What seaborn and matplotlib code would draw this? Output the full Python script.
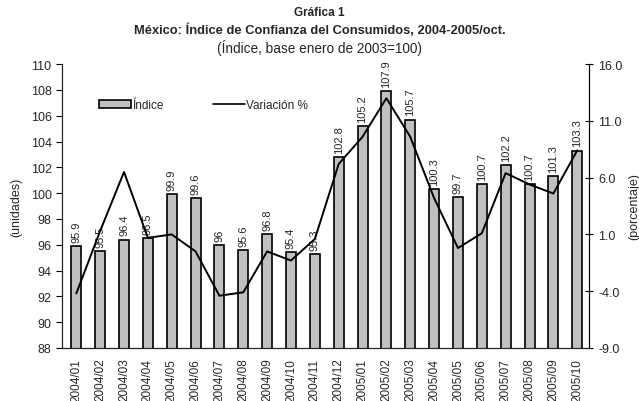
import numpy as np
import matplotlib
matplotlib.use('Agg')
import matplotlib.pyplot as plt
import seaborn as sns
from matplotlib.patches import Patch
from matplotlib.lines import Line2D

# Data
periodos = ['2004/01', '2004/02', '2004/03', '2004/04', '2004/05', '2004/06',
            '2004/07', '2004/08', '2004/09', '2004/10', '2004/11', '2004/12',
            '2005/01', '2005/02', '2005/03', '2005/04', '2005/05', '2005/06',
            '2005/07', '2005/08', '2005/09', '2005/10']
indice = [95.9, 95.5, 96.4, 96.5, 99.9, 99.6, 96.0, 95.6, 96.8, 95.4, 95.3, 102.8,
          105.2, 107.9, 105.7, 100.3, 99.7, 100.7, 102.2, 100.7, 101.3, 103.3]
etiquetas = ['95.9', '95.5', '96.4', '96.5', '99.9', '99.6', '96', '95.6', '96.8',
             '95.4', '95.3', '102.8', '105.2', '107.9', '105.7', '100.3', '99.7',
             '100.7', '102.2', '100.7', '101.3', '103.3']
variacion = [-4.2, 1.3, 6.5, 0.7, 1.0, -0.5, -4.4, -4.1, -0.5, -1.3, 0.6, 7.2,
             9.6, 13.0, 9.6, 4.2, -0.2, 1.1, 6.4, 5.4, 4.6, 8.4]

sns.set_style('white')
plt.rcParams['font.family'] = ['Liberation Sans', 'DejaVu Sans']

fig = plt.figure(figsize=(6.39, 4.02), dpi=100)
ax = fig.add_axes([0.097, 0.132, 0.825, 0.706])

sns.barplot(x=periodos, y=indice, color='#c0c0c0', saturation=1, width=0.42,
            edgecolor='black', linewidth=1.2, ax=ax)
ax.set_ylim(88, 110)
ax.set_yticks(np.arange(88, 111, 2))
ax.set_xlim(-0.6, 21.5)
ax.bar_label(ax.containers[0], labels=etiquetas, rotation=90, padding=3, fontsize=8)

ax.set_ylabel('(unidades)', fontsize=9, labelpad=6)
ax.set_xticks(range(len(periodos)))
ax.set_xticklabels(periodos, rotation=90, fontsize=8.5)
ax.set_xticks(np.arange(-0.5, len(periodos), 1), minor=True)
ax.tick_params(axis='x', which='major', length=0, pad=7)
ax.tick_params(axis='x', which='minor', length=5, direction='inout', color='black', width=0.8)
ax.tick_params(axis='y', labelsize=9, length=4, direction='out', color='black', width=0.8)
for s in ['left', 'bottom', 'right']:
    ax.spines[s].set_color('black')
    ax.spines[s].set_linewidth(0.8)
ax.spines['top'].set_visible(False)

ax2 = ax.twinx()
sns.lineplot(x=np.arange(len(periodos)), y=variacion, color='black', linewidth=1.4, ax=ax2)
ax2.set_ylim(-9, 16)
ax2.set_yticks(np.arange(-9, 17, 5))
ax2.set_yticklabels([f'{v:.1f}' for v in np.arange(-9, 17, 5)])
ax2.tick_params(axis='y', labelsize=9, length=6, direction='inout', color='black', width=0.8)
ax2.set_ylabel('(porcentaje)', fontsize=9, labelpad=4)
ax2.spines['top'].set_visible(False)
ax2.spines['right'].set_color('black')
ax2.spines['right'].set_linewidth(0.8)
ax2.set_xlim(-0.6, 21.5)

handles = [Patch(facecolor='#c0c0c0', edgecolor='black', linewidth=1.2),
           Line2D([0], [0], color='black', linewidth=1.2)]
ax.legend(handles, ['Índice', 'Variación %'], ncol=2, frameon=False, fontsize=8.5,
          loc='upper left', bbox_to_anchor=(0.05, 0.915), handlelength=2.7,
          handletextpad=0.1, columnspacing=4.2)

fig.text(0.5, 0.968, 'Gráfica 1', ha='center', va='center', fontsize=8.5, fontweight='bold')
fig.text(0.5, 0.925, 'México: Índice de Confianza del Consumidos, 2004-2005/oct.',
         ha='center', va='center', fontsize=9.3, fontweight='bold')
fig.text(0.5, 0.881, '(Índice, base enero de 2003=100)', ha='center', va='center', fontsize=9.8)

fig.savefig('out.png', dpi=100)
